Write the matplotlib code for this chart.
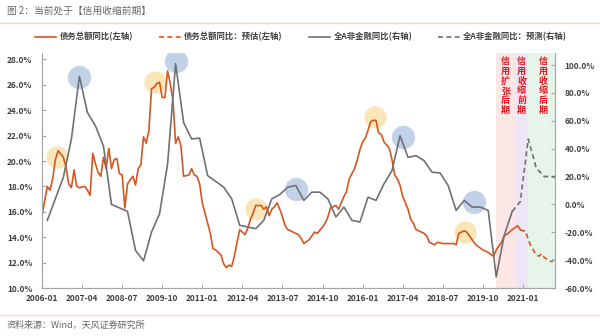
import matplotlib
matplotlib.use('Agg')
import matplotlib.pyplot as plt
from matplotlib.lines import Line2D

plt.rcParams['font.family'] = ['Noto Sans CJK SC', 'DejaVu Sans']

# x positions are months since 2006-01
tick_labels = ['2006-01', '2007-04', '2008-07', '2009-10', '2011-01', '2012-04', '2013-07',
               '2014-10', '2016-01', '2017-04', '2018-07', '2019-10', '2021-01']

# 债务总额同比 (left axis, %)
debt_m = [0, 2, 3, 4, 5, 6, 8, 9, 10, 11,
          12, 13, 14, 16, 17, 18, 19, 20, 21, 22, 23,
          24, 25, 26, 27, 28, 29, 30, 31, 32, 34, 35,
          36, 37, 38, 39, 40, 41, 42, 43, 44, 45, 46, 47,
          48, 49, 50, 51, 52, 53, 55, 56, 57, 58, 59,
          60, 62, 63, 64, 65, 67, 68, 69, 70, 71,
          72, 73, 74, 76, 77, 78, 79, 80, 82, 83,
          84, 85, 86, 87, 88, 89, 90, 91, 92, 94,
          96, 97, 98, 100, 101, 102, 103, 105, 106, 107,
          108, 110, 111, 112, 113, 114, 115, 117, 118, 119,
          120, 121, 122, 123, 124, 125, 126, 127, 128, 130, 131,
          132, 133, 134, 135, 137, 138, 139, 140, 142, 143,
          144, 145, 147, 148, 150, 152, 154, 155,
          156, 157, 158, 159, 160, 162, 163, 165, 167,
          169, 170, 172, 173, 175, 176, 178, 179]
debt_v = [15.7, 18.0, 17.7, 18.6, 20.1, 20.8, 20.3, 19.5, 18.2, 17.9,
          19.3, 18.0, 17.9, 18.0, 17.7, 17.3, 20.6, 19.8, 19.1, 18.8, 20.3,
          19.4, 21.0, 19.4, 20.1, 20.2, 19.0, 18.9, 16.3, 18.2, 18.8, 18.1,
          19.4, 19.7, 21.9, 21.4, 22.4, 25.7, 25.8, 26.1, 26.2, 25.0, 25.0, 27.1,
          26.1, 24.8, 21.4, 21.9, 21.2, 18.8, 18.9, 19.4, 18.9, 18.8, 18.2,
          16.7, 15.1, 14.3, 13.1, 13.0, 12.6, 11.9, 11.6, 11.8, 11.7,
          12.5, 13.6, 14.6, 14.2, 14.7, 15.4, 15.9, 16.5, 16.5, 16.2,
          16.4, 15.7, 16.2, 16.4, 16.7, 16.2, 15.6, 14.9, 14.6, 14.4,
          14.2, 13.9, 13.5, 13.8, 14.1, 14.4, 14.3, 14.8, 15.1, 15.6,
          16.3, 16.5, 16.2, 16.7, 17.2, 17.6, 18.6, 19.4, 20.1, 20.9,
          21.5, 21.8, 22.4, 23.1, 23.2, 23.2, 22.2, 22.1, 21.5, 21.0, 20.1,
          18.9, 18.6, 18.1, 17.2, 16.2, 15.4, 15.1, 14.6, 14.4, 14.3,
          14.1, 13.6, 13.4, 13.6, 13.5, 13.5, 13.5, 13.4,
          14.3, 14.4, 14.5, 14.4, 14.1, 13.5, 13.3, 13.0, 12.8,
          12.5, 13.0, 13.6, 14.1, 14.4, 14.6, 14.9, 14.6]

# 债务总额同比：预估
debt_fc_m = [179, 180, 181, 182, 183, 185, 186, 187, 188, 190, 191, 192]
debt_fc_v = [14.6, 14.5, 14.5, 13.8, 13.3, 12.6, 12.5, 12.7, 12.4, 12.1, 12.1, 12.4]

# 全A非金融同比 (right axis, %)
nf_m = [2, 8, 11, 14, 17, 20, 23, 26, 32, 35, 38, 41, 44, 47, 50, 53, 56, 59, 62,
        68, 71, 74, 80, 83, 86, 89, 92, 95, 98, 101, 104, 107, 110, 113, 116, 119,
        122, 125, 128, 131, 134, 137, 140, 143, 146, 149, 152, 155, 158, 161, 164,
        167, 170, 173, 176]
nf_v = [-11.4, 19.5, 46.9, 92, 66, 56.4, 42, 0, -5, -33, -40.5, -19.8, -6.7, 29, 101, 58.8, 47, 47.6, 20.7,
        12.4, 4, -15, -17.4, -11.4, 4, 7.1, 12.4, 13.6, 2.9, 8.8, 8.8, 4, -9, -1.9, -11.4, -12.6,
        5.2, 2.9, 14.8, 24.3, 49.3, 33.8, 35, 31.4, 23.1, 22.6, 13.6, -4.3, 2.9, -1.9, -1.9,
        -4.3, -52, -22.1, -5]

# 全A非金融同比：预测
nf_fc_m = [176, 179, 182, 185, 188, 192]
nf_fc_v = [-5, 2, 47, 26, 20, 20]

# highlight circles
yellow_m = [5.5, 42.3, 80, 124.7, 158.4]
yellow_v = [20.3, 26.2, 16.2, 23.5, 14.4]
blue_m = [14, 50, 95, 135, 161.5]
blue_v = [91.4, 103, 11.2, 48.6, 1.6]

# credit phases
phase_names = ['信用扩张后期', '信用收缩前期', '信用收缩后期']
phase_start = [170, 177, 182]
phase_end = [177, 182, 192]
phase_colors = ['#FDE6E6', '#EEE6F5', '#E7F4EA']
phase_text_x = [173.5, 179.5, 187.5]

orange = '#D6561F'
grey = '#6E7275'
dark = '#404040'

fig = plt.figure(figsize=(6, 3.36), dpi=100)
ax = fig.add_axes([42 / 600, 48 / 336, 513 / 600, 235 / 336])
ax2 = ax.twinx()

for s, e, c in zip(phase_start, phase_end, phase_colors):
    ax.axvspan(s, e, color=c, lw=0, zorder=0)

ax.scatter(yellow_m, yellow_v, s=260, color='#F7D27E', alpha=0.55, lw=0, zorder=1)
ax.plot(debt_m, debt_v, color=orange, lw=1.2, zorder=3)
ax.plot(debt_fc_m, debt_fc_v, color=orange, lw=1.2, ls=(0, (3, 2)), zorder=3)

ax2.scatter(blue_m, blue_v, s=280, color='#8EADD6', alpha=0.55, lw=0, zorder=1)
ax2.plot(nf_m, nf_v, color=grey, lw=1.2, zorder=2)
ax2.plot(nf_fc_m, nf_fc_v, color=grey, lw=1.2, ls=(0, (3, 2)), zorder=2)

for name, x in zip(phase_names, phase_text_x):
    ax2.text(x, 0.985, '\n'.join(name), transform=ax2.get_xaxis_transform(),
             ha='center', va='top', color='#E8141E', fontsize=6.5,
             fontweight='bold', linespacing=1.13)

ax.set_xlim(0, 192)
ax.set_ylim(10, 10 + 235 / 12.7)
ax2.set_ylim(-60, -60 + 235 / 1.393)

ax.set_xticks(range(0, 181, 15))
ax.set_xticklabels(tick_labels)
ax.set_yticks(range(10, 29, 2))
ax.set_yticklabels([f'{v:.1f}%' for v in range(10, 29, 2)])
ax2.set_yticks(range(-60, 101, 20))
ax2.set_yticklabels([f'{v:.1f}%' for v in range(-60, 101, 20)])

for a in (ax, ax2):
    for side in ('left', 'right', 'bottom', 'top'):
        a.spines[side].set_color('#A6A6A6')
        a.spines[side].set_linewidth(0.8)
    a.spines['top'].set_visible(False)
    a.tick_params(direction='in', length=3, width=0.8, color='#A6A6A6',
                  labelsize=6, labelcolor=dark, pad=7)
    for lab in a.get_xticklabels() + a.get_yticklabels():
        lab.set_fontweight('bold')
ax.spines['left'].set_bounds(10, 28)
ax.tick_params(axis='x', pad=4)

# legend
handles = [Line2D([], [], color=orange, lw=1.2),
           Line2D([], [], color=orange, lw=1.2, ls=(0, (3, 2))),
           Line2D([], [], color=grey, lw=1.2),
           Line2D([], [], color=grey, lw=1.2, ls=(0, (3, 2)))]
labels = ['债务总额同比(左轴)', '债务总额同比：预估(左轴)',
          '全A非金融同比(右轴)', '全A非金融同比：预测(右轴)']
leg = fig.legend(handles, labels, loc='center', bbox_to_anchor=(301 / 600, 1 - 37 / 336),
                 ncol=4, frameon=False, fontsize=6, handlelength=2.6,
                 handletextpad=0.4, columnspacing=3.1)
for t in leg.get_texts():
    t.set_fontweight('bold')
    t.set_color(dark)

# title, source and frame lines
fig.text(7 / 600, 1 - 11 / 336, '图 2：当前处于【信用收缩前期】', fontsize=7,
         color='#666666', va='center', ha='left')
fig.text(7 / 600, 1 - 325 / 336, '资料来源：Wind，天风证券研究所', fontsize=6.5,
         color='#666666', va='center', ha='left')
fig.add_artist(Line2D([0, 1], [1 - 22.5 / 336] * 2, color='#F3D9BF', lw=1))
fig.add_artist(Line2D([0, 1], [1 - 315 / 336] * 2, color='#F5E0D0', lw=1))

fig.savefig('out.png', dpi=100)
